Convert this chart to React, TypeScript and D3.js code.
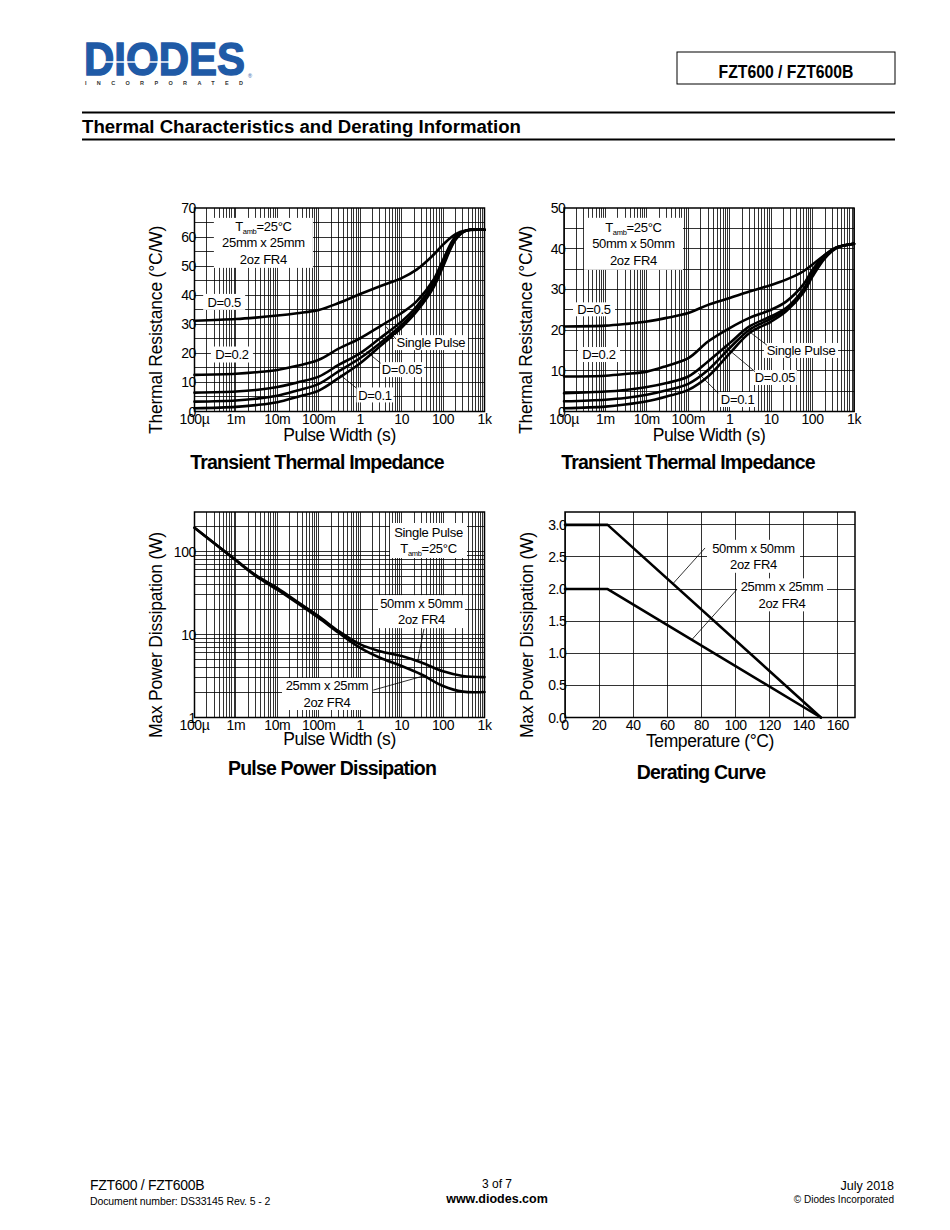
import React from "react";
import * as d3 from "d3";

// ---------------- data ----------------
const pulseDecades = [1e-4, 1e-3, 1e-2, 1e-1, 1, 10, 100, 1000];
const pulseDecadeLabels = ["100µ", "1m", "10m", "100m", "1", "10", "100", "1k"];

// Transient thermal impedance (°C/W) vs pulse width (s)
const zthPulse = [1e-4, 1e-3, 3e-3, 1e-2, 3e-2, 0.1, 0.3, 1, 3, 10, 23, 59, 100, 200, 370, 1000];
const zth25D05 = [31.2, 31.8, 32.3, 33.0, 33.8, 34.9, 37.3, 40.4, 43.1, 45.9, 48.8, 53.9, 57.4, 61.0, 62.3, 62.5];
const zth25D02 = [12.6, 13.0, 13.5, 14.3, 15.7, 17.8, 21.6, 25.2, 29.3, 33.9, 37.9, 45.3, 52.2, 60.2, 62.3, 62.5];
const zth25D01 = [6.5, 6.9, 7.4, 8.4, 10.0, 12.0, 16.0, 20.1, 25.2, 31.0, 36.1, 44.2, 51.1, 59.7, 62.3, 62.5];
const zth25D005 = [3.4, 3.8, 4.4, 5.4, 7.2, 9.5, 13.8, 18.4, 23.5, 29.8, 35.0, 43.4, 50.5, 59.3, 62.3, 62.5];
const zth25Single = [1.1, 1.6, 2.2, 3.2, 5.0, 7.2, 11.5, 16.6, 22.4, 28.9, 34.4, 42.7, 49.9, 59.1, 62.3, 62.5];

const zth50D05 = [20.9, 21.1, 21.5, 22.1, 23.0, 24.2, 26.2, 27.9, 29.5, 31.1, 32.4, 34.4, 36.1, 38.5, 40.2, 41.2];
const zth50D02 = [8.6, 8.8, 9.2, 9.8, 11.2, 13.1, 17.2, 20.5, 23.0, 25.0, 27.0, 31.1, 34.8, 38.5, 40.3, 41.2];
const zth50D01 = [4.5, 4.9, 5.3, 6.0, 7.0, 8.6, 12.3, 16.8, 20.9, 23.4, 25.4, 29.9, 34.0, 38.1, 40.2, 41.2];
const zth50D005 = [2.5, 2.9, 3.3, 4.1, 5.2, 6.8, 10.2, 15.6, 20.1, 22.8, 25.0, 29.5, 33.6, 38.0, 40.2, 41.2];
const zth50Single = [0.8, 1.2, 1.7, 2.5, 3.7, 5.3, 8.6, 14.3, 19.3, 22.1, 24.6, 29.1, 33.2, 37.7, 40.1, 41.2];

// Pulse power dissipation (W) vs pulse width (s)
const ppdPulse = [1e-4, 1e-3, 3e-3, 1e-2, 3e-2, 0.1, 0.3, 1, 3, 10, 30, 100, 300, 1000];
const ppd50 = [194, 79, 52, 36.3, 25, 16.6, 11, 7.6, 6.3, 5.5, 4.6, 3.6, 3.16, 3.07];
const ppd25 = [194, 78, 51, 34.7, 24, 15.8, 10.5, 6.9, 5.25, 4.17, 3.3, 2.4, 2.05, 2.03];

// Derating (W) vs temperature (°C)
const derTemp = [0, 25, 150];
const der50 = [3, 3, 0];
const der25 = [2, 2, 0];
const derTempTicks = [0, 20, 40, 60, 80, 100, 120, 140, 160];
const derPowerTicks = [0, 0.5, 1.0, 1.5, 2.0, 2.5, 3.0];

// ---------------- helpers ----------------
const FONT = "'Liberation Sans', Arial, Helvetica, sans-serif";

type Frame = { x0: number; x1: number; y0: number; y1: number };
type Series = { xs: number[]; ys: number[] };
type Box = { x: number; y: number; w: number; h: number; lines: React.ReactNode[]; lh?: number };
type Leader = { from: [number, number]; to: [number, number] };

const logGrid = (lo: number, hi: number) => {
  const out: number[] = [];
  for (let d = lo; d < hi * 0.999; d *= 10) {
    for (let k = 1; k <= 9; k++) out.push(k * d);
  }
  out.push(hi);
  return out;
};

const tamb = (key: string) => (
  <tspan key={key}>
    T<tspan fontSize={7.5} dy={3}>amb</tspan>
    <tspan dy={-3}>=25°C</tspan>
  </tspan>
);

function Chart(props: {
  f: Frame;
  x: any;
  y: any;
  curve: any;
  xGrid: number[];
  yGrid: number[];
  xTicks: number[];
  xLabels: string[];
  yTicks: number[];
  yLabels: string[];
  series: Series[];
  boxes: Box[];
  leaders: Leader[];
  xTitle: string;
  yTitle: string;
  title: string;
  xTitleY: number;
  yTitleX: number;
  yTitleCY: number;
  titleX: number;
  titleY: number;
}) {
  const { f, x, y } = props;
  const line = d3
    .line<[number, number]>()
    .x((d) => x(d[0]))
    .y((d) => y(d[1]))
    .curve(props.curve);
  const cx = (f.x0 + f.x1) / 2;
  return (
    <g fontFamily={FONT}>
      <g stroke="#000" strokeWidth={0.8} shapeRendering="crispEdges">
        {props.xGrid.map((v, i) => (
          <line key={"gx" + i} x1={x(v)} x2={x(v)} y1={f.y0} y2={f.y1} />
        ))}
        {props.yGrid.map((v, i) => (
          <line key={"gy" + i} x1={f.x0} x2={f.x1} y1={y(v)} y2={y(v)} />
        ))}
      </g>
      <rect x={f.x0} y={f.y0} width={f.x1 - f.x0} height={f.y1 - f.y0} fill="none" stroke="#000" strokeWidth={1.5} />
      <g fill="none" stroke="#000" strokeWidth={2.6} strokeLinejoin="round" strokeLinecap="round">
        {props.series.map((s, i) => (
          <path key={"s" + i} d={line(s.xs.map((v, j) => [v, s.ys[j]] as [number, number])) || ""} />
        ))}
      </g>
      {props.boxes.map((b, i) => {
        const px = x(b.x);
        const py = y(b.y);
        const lh = b.lh ?? 16;
        const n = b.lines.length;
        return (
          <g key={"b" + i}>
            <rect x={px - b.w / 2} y={py - b.h / 2} width={b.w} height={b.h} fill="#fff" />
            <text textAnchor="middle" fontSize={13} letterSpacing={-0.3} fill="#000">
              {b.lines.map((l, j) => (
                <tspan key={j} x={px} y={py + (j - (n - 1) / 2) * lh + 4.6}>
                  {l}
                </tspan>
              ))}
            </text>
          </g>
        );
      })}
      <g stroke="#000" strokeWidth={0.8}>
        {props.leaders.map((l, i) => (
          <line key={"l" + i} x1={x(l.from[0])} y1={y(l.from[1])} x2={x(l.to[0])} y2={y(l.to[1])} />
        ))}
      </g>
      <g fontSize={14} fill="#000" letterSpacing={-0.4}>
        {props.yTicks.map((v, i) => (
          <text key={"yt" + i} x={f.x0 + 1.5} y={y(v) + 5} textAnchor="end">
            {props.yLabels[i]}
          </text>
        ))}
        {props.xTicks.map((v, i) => (
          <text key={"xt" + i} x={x(v)} y={f.y1 + 12.5} textAnchor="middle">
            {props.xLabels[i]}
          </text>
        ))}
      </g>
      <text x={cx} y={props.xTitleY} textAnchor="middle" fontSize={17.5} letterSpacing={-0.4}>
        {props.xTitle}
      </text>
      <text
        transform={`translate(${props.yTitleX},${props.yTitleCY}) rotate(-90)`}
        textAnchor="middle"
        fontSize={17.5}
        letterSpacing={-0.2}
      >
        {props.yTitle}
      </text>
      <text x={props.titleX} y={props.titleY} textAnchor="middle" fontSize={19.5} fontWeight="bold" letterSpacing={-0.8}>
        {props.title}
      </text>
    </g>
  );
}

export default function App() {
  const F1: Frame = { x0: 194.5, x1: 484.5, y0: 208, y1: 411.5 };
  const F2: Frame = { x0: 564, x1: 854, y0: 208, y1: 411.5 };
  const F3: Frame = { x0: 194.5, x1: 484.5, y0: 512, y1: 717.5 };
  const F4: Frame = { x0: 565, x1: 855, y0: 512, y1: 717.5 };

  const x1 = d3.scaleLog().domain([1e-4, 1e3]).range([F1.x0, F1.x1]);
  const y1 = d3.scaleLinear().domain([0, 70]).range([F1.y1, F1.y0]);
  const x2 = d3.scaleLog().domain([1e-4, 1e3]).range([F2.x0, F2.x1]);
  const y2 = d3.scaleLinear().domain([0, 50]).range([F2.y1, F2.y0]);
  const x3 = d3.scaleLog().domain([1e-4, 1e3]).range([F3.x0, F3.x1]);
  const y3 = d3.scaleLog().domain([1, 300]).range([F3.y1, F3.y0]);
  const x4 = d3.scaleLinear().domain([0, 170]).range([F4.x0, F4.x1]);
  const y4 = d3.scaleLinear().domain([0, 3.2]).range([F4.y1, F4.y0]);

  const pulseGrid = logGrid(1e-4, 1e3);
  const y1Grid = d3.range(5, 70, 5);
  const y2Grid = d3.range(5, 50, 5);
  const y3Grid = logGrid(1, 100).concat([200]);
  const x4Grid = derTempTicks;
  const y4Grid = derPowerTicks;

  const smooth = d3.curveCatmullRom.alpha(0.5);
  const ser = (xs: number[], ...yss: number[][]) => yss.map((ys) => ({ xs, ys }));

  return (
    <svg width={950} height={1230} style={{ position: "absolute", left: 0, top: 0 }} fontFamily={FONT}>
      <rect width={950} height={1230} fill="#fff" />
      {/* Header */}
      <g>
        <text x={84} y={75} fontSize={46} fontWeight="bold" fill="#1f5aa6" stroke="#1f5aa6" strokeWidth={1.4} textLength={161} lengthAdjust="spacingAndGlyphs">
          DIODES
        </text>
        <line x1={104} x2={172} y1={62} y2={62} stroke="#fff" strokeWidth={1.6} />
        <text x={85} y={84.5} fontSize={5.5} fontWeight="bold" fill="#333" textLength={158} lengthAdjust="spacing">
          INCORPORATED
        </text>
        <text x={248} y={78} fontSize={5.5} fill="#1f5aa6">®</text>
        <rect x={677} y={52} width={218} height={32} fill="none" stroke="#000" strokeWidth={1} />
        <text x={786} y={78} textAnchor="middle" fontSize={17.5} fontWeight="bold" textLength={135} lengthAdjust="spacingAndGlyphs">
          FZT600 / FZT600B
        </text>
        <line x1={82} x2={895} y1={112.5} y2={112.5} stroke="#000" strokeWidth={2} />
        <text x={82} y={133} fontSize={17.5} fontWeight="bold" textLength={439} lengthAdjust="spacingAndGlyphs">
          Thermal Characteristics and Derating Information
        </text>
        <line x1={82} x2={895} y1={139.5} y2={139.5} stroke="#000" strokeWidth={2} />
      </g>

      <Chart
        f={F1}
        x={x1}
        y={y1}
        curve={smooth}
        xGrid={pulseGrid}
        yGrid={y1Grid}
        xTicks={pulseDecades}
        xLabels={pulseDecadeLabels}
        yTicks={d3.range(0, 71, 10)}
        yLabels={d3.range(0, 71, 10).map(String)}
        series={ser(zthPulse, zth25D05, zth25D02, zth25D01, zth25D005, zth25Single)}
        boxes={[
          { x: 4.6e-3, y: 58, w: 99, h: 50, lh: 16.5, lines: [tamb("t"), "25mm x 25mm", "2oz FR4"] },
          { x: 5.2e-4, y: 37.7, w: 42, h: 16, lines: ["D=0.5"] },
          { x: 8.0e-4, y: 19.6, w: 42, h: 16, lines: ["D=0.2"] },
          { x: 51, y: 23.7, w: 74, h: 15, lines: ["Single Pulse"] },
          { x: 10.2, y: 14.4, w: 44, h: 15, lines: ["D=0.05"] },
          { x: 2.27, y: 5.7, w: 37, h: 15, lines: ["D=0.1"] },
        ]}
        leaders={[
          { from: [7.3, 24.9], to: [4.18, 29.2] },
          { from: [3.12, 16.6], to: [1.43, 20.6] },
          { from: [0.82, 8.0], to: [0.326, 12.6] },
        ]}
        xTitle="Pulse Width (s)"
        yTitle="Thermal Resistance (°C/W)"
        title="Transient Thermal Impedance"
        xTitleY={441}
        yTitleX={162}
        yTitleCY={330}
        titleX={317}
        titleY={469}
      />

      <Chart
        f={F2}
        x={x2}
        y={y2}
        curve={smooth}
        xGrid={pulseGrid}
        yGrid={y2Grid}
        xTicks={pulseDecades}
        xLabels={pulseDecadeLabels}
        yTicks={d3.range(0, 51, 10)}
        yLabels={d3.range(0, 51, 10).map(String)}
        series={ser(zthPulse, zth50D05, zth50D02, zth50D01, zth50D005, zth50Single)}
        boxes={[
          { x: 4.75e-3, y: 41.2, w: 99, h: 52, lh: 16.5, lines: [tamb("t"), "50mm x 50mm", "2oz FR4"] },
          { x: 5.3e-4, y: 25.1, w: 42, h: 14, lines: ["D=0.5"] },
          { x: 7.0e-4, y: 14.0, w: 42, h: 15, lines: ["D=0.2"] },
          { x: 52.6, y: 15.0, w: 74, h: 15, lines: ["Single Pulse"] },
          { x: 12.3, y: 8.35, w: 44, h: 15, lines: ["D=0.05"] },
          { x: 1.55, y: 2.95, w: 39, h: 15, lines: ["D=0.1"] },
        ]}
        leaders={[
          { from: [7.9, 16.3], to: [3.08, 19.5] },
          { from: [4.07, 9.8], to: [0.7, 16.3] },
          { from: [0.53, 4.5], to: [0.175, 9.4] },
        ]}
        xTitle="Pulse Width (s)"
        yTitle="Thermal Resistance (°C/W)"
        title="Transient Thermal Impedance"
        xTitleY={441}
        yTitleX={532}
        yTitleCY={330}
        titleX={688}
        titleY={469}
      />

      <Chart
        f={F3}
        x={x3}
        y={y3}
        curve={smooth}
        xGrid={pulseGrid}
        yGrid={y3Grid}
        xTicks={pulseDecades}
        xLabels={pulseDecadeLabels}
        yTicks={[1, 10, 100]}
        yLabels={["1", "10", "100"]}
        series={ser(ppdPulse, ppd50, ppd25)}
        boxes={[
          { x: 44.5, y: 136, w: 77, h: 35, lh: 16.5, lines: ["Single Pulse", tamb("t")] },
          { x: 30.1, y: 18.9, w: 87, h: 33, lh: 16.5, lines: ["50mm x 50mm", "2oz FR4"] },
          { x: 0.158, y: 1.92, w: 90, h: 32, lh: 16.5, lines: ["25mm x 25mm", "2oz FR4"] },
        ]}
        leaders={[
          { from: [34.6, 11.7], to: [24.4, 4.8] },
          { from: [2.07, 2.14], to: [40.3, 3.25] },
        ]}
        xTitle="Pulse Width (s)"
        yTitle="Max Power Dissipation (W)"
        title="Pulse Power Dissipation"
        xTitleY={745}
        yTitleX={162}
        yTitleCY={635}
        titleX={332}
        titleY={775}
      />

      <Chart
        f={F4}
        x={x4}
        y={y4}
        curve={d3.curveLinear}
        xGrid={x4Grid}
        yGrid={y4Grid}
        xTicks={derTempTicks}
        xLabels={derTempTicks.map(String)}
        yTicks={derPowerTicks}
        yLabels={derPowerTicks.map((v) => v.toFixed(1))}
        series={ser(derTemp, der50, der25)}
        boxes={[
          { x: 110.5, y: 2.51, w: 93, h: 33, lh: 16.5, lines: ["50mm x 50mm", "2oz FR4"] },
          { x: 127.2, y: 1.91, w: 90, h: 33, lh: 16.5, lines: ["25mm x 25mm", "2oz FR4"] },
        ]}
        leaders={[
          { from: [82.1, 2.64], to: [63.5, 2.09] },
          { from: [100.6, 1.99], to: [74.3, 1.21] },
        ]}
        xTitle="Temperature (°C)"
        yTitle="Max Power Dissipation (W)"
        title="Derating Curve"
        xTitleY={747}
        yTitleX={533}
        yTitleCY={635}
        titleX={701}
        titleY={779}
      />

      {/* Footer */}
      <g fill="#000">
        <text x={90} y={1190} fontSize={14} letterSpacing={-0.3}>FZT600 / FZT600B</text>
        <text x={90} y={1205} fontSize={10.5} letterSpacing={-0.1}>Document number: DS33145 Rev. 5 - 2</text>
        <text x={497} y={1188} fontSize={12} textAnchor="middle">3 of 7</text>
        <text x={497} y={1203} fontSize={12.5} fontWeight="bold" textAnchor="middle">www.diodes.com</text>
        <text x={894} y={1190} fontSize={12.5} textAnchor="end">July 2018</text>
        <text x={894} y={1203} fontSize={10} textAnchor="end">© Diodes Incorporated</text>
      </g>
    </svg>
  );
}
